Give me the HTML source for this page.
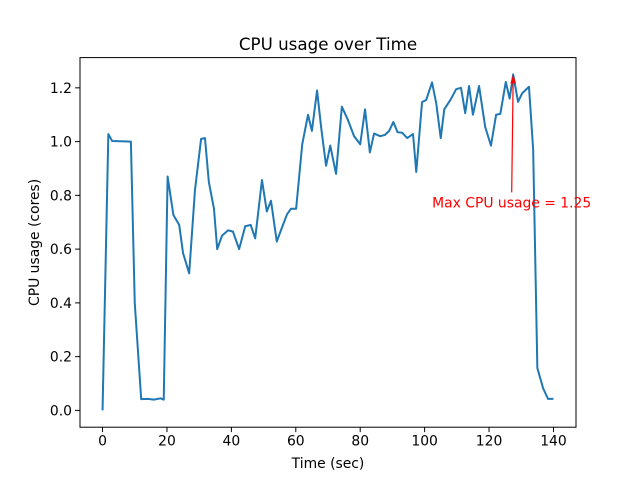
<!DOCTYPE html>
<html><head><meta charset="utf-8"><style>
body{margin:0;background:#fff}
svg text{font-family:"DejaVu Sans","Liberation Sans",sans-serif}
</style></head><body>
<svg id="chart" width="640" height="480" xmlns="http://www.w3.org/2000/svg">
<rect width="640" height="480" fill="#fff"/>
<text x="328" y="50" font-size="16.7" text-anchor="middle">CPU usage over Time</text>
<g id="plot"></g>
</svg>
<script>
const times=[0,1.8,3,8.8,10,12,14,16,18,19,20.2,22,23.8,25,26.9,28.7,30.6,31.8,33,34.6,35.6,37.1,39,40.5,42.4,44.3,46,47.4,49.5,51,52.3,54.1,55.7,57.3,58.5,60.1,62,63.8,65,66.6,67.9,69.4,70.7,72.5,74.3,76.2,78.1,80,81.5,83,84.3,86.2,87.7,89,90.3,91.6,93,94.6,96.4,97.4,99.2,100.5,102.3,103.6,105,106.1,108,109.8,111.3,112.6,113.8,115,116.9,118.8,120.6,122.2,123.5,125.2,126.4,127.5,129,130.3,132.4,133.7,135,136.8,138.3,140];
const cpu=[0,1.028,1.002,1.0,0.40,0.042,0.043,0.040,0.045,0.040,0.87,0.727,0.69,0.585,0.51,0.82,1.01,1.013,0.85,0.75,0.60,0.65,0.67,0.665,0.60,0.685,0.69,0.64,0.857,0.74,0.78,0.628,0.68,0.73,0.75,0.75,0.99,1.10,1.04,1.19,1.05,0.91,0.985,0.88,1.13,1.08,1.02,0.99,1.12,0.96,1.03,1.02,1.025,1.04,1.073,1.035,1.033,1.013,1.028,0.887,1.147,1.155,1.22,1.143,1.013,1.12,1.155,1.195,1.2,1.106,1.207,1.1,1.207,1.055,0.985,1.1,1.103,1.222,1.16,1.25,1.148,1.18,1.204,0.97,0.157,0.082,0.043,0.043];
const xTicks=[0,20,40,60,80,100,120,140];
const yTicks=[0,0.2,0.4,0.6,0.8,1.0,1.2];
const yTickLabels=["0.0","0.2","0.4","0.6","0.8","1.0","1.2"];

const L=80,R=576,T=57.6,B=427.2;
const xmin=-7,xmax=147,ymin=-0.0625,ymax=1.3125;
const sx=v=>L+(v-xmin)/(xmax-xmin)*(R-L);
const sy=v=>B-(v-ymin)/(ymax-ymin)*(B-T);
const NS="http://www.w3.org/2000/svg";
const g=document.getElementById('plot');
function mk(tag,attrs,parent){const e=document.createElementNS(NS,tag);for(const k in attrs)e.setAttribute(k,attrs[k]);(parent||g).appendChild(e);return e;}

let d=times.map((t,i)=>(i?'L':'M')+sx(t).toFixed(2)+','+sy(cpu[i]).toFixed(2)).join('');
const line=mk('path',{d:d,fill:'none',stroke:'#1f77b4','stroke-width':2,'stroke-linejoin':'round'});



const frame=mk('rect',{x:L,y:T,width:R-L,height:B-T,fill:'none',stroke:'#000','stroke-width':1});



xTicks.forEach(v=>{
  const x=sx(v);
  mk('line',{x1:x,x2:x,y1:B,y2:B+4.9,stroke:'#000','stroke-width':1});
  const t=mk('text',{x:x,y:B+18.5,'font-size':13.9,'text-anchor':'middle'});
  t.textContent=v;
  
  
});
yTicks.forEach((v,i)=>{
  const y=sy(v);
  mk('line',{x1:L-4.9,x2:L,y1:y,y2:y,stroke:'#000','stroke-width':1});
  const t=mk('text',{x:L-8,y:y+5,'font-size':13.9,'text-anchor':'end'});
  t.textContent=yTickLabels[i];
  
  
});
const xt=mk('text',{x:(L+R)/2,y:468,'font-size':13.9,'text-anchor':'middle'});
xt.textContent='Time (sec)';


const yt=mk('text',{x:0,y:0,'font-size':13.9,'text-anchor':'middle',transform:'translate(39,'+((T+B)/2)+') rotate(-90)'});
yt.textContent='CPU usage (cores)';



// annotation at max
let mi=0;cpu.forEach((v,i)=>{if(v>cpu[mi])mi=i;});
const ax=sx(times[mi]),ay=sy(cpu[mi]);
const tx=ax-1.5,ty=sy(0.8);
const arr=mk('line',{x1:tx,y1:ty-3,x2:ax,y2:ay+2,stroke:'red','stroke-width':1.2});


const head=mk('path',{d:`M${ax},${ay} L${ax-2.8},${ay+9} L${ax+2.8},${ay+9} Z`,fill:'red'});


const at=mk('text',{x:tx,y:ty+12,'font-size':13.9,'text-anchor':'middle',fill:'red'});
at.textContent='Max CPU usage = '+cpu[mi].toFixed(2);


</script>
</body></html>
